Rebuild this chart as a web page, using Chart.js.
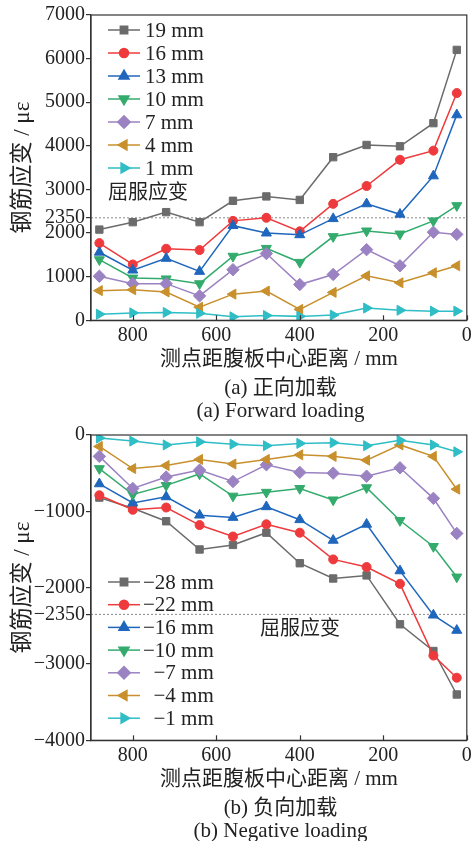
<!DOCTYPE html>
<html>
<head>
<meta charset="utf-8">
<script src="https://cdn.jsdelivr.net/npm/chart.js@4/dist/chart.umd.min.js"></script>
<style>
  html, body { margin: 0; padding: 0; background: #fff; }
  #wrap { position: relative; width: 474px; height: 841px; overflow: hidden; background: #fff; }
  .panel { position: absolute; left: 0; width: 474px; height: 420px; }
  .panel canvas { position: absolute; left: 0; top: 0; }
  .cap { position: absolute; left: 91px; width: 379px; text-align: center; height: 24px; line-height: 24px;
         font-family: 'Liberation Serif', 'Noto Sans CJK SC', serif; font-size: 21px; color: #222; white-space: nowrap; }
</style>
</head>
<body>
<div id="wrap">
  <div class="panel" style="top:0px">
    <canvas id="c1" width="474" height="420"></canvas>
    <div class="cap" style="top:375px">(a) 正向加载</div>
    <div class="cap" style="top:398px">(a) Forward loading</div>
  </div>
  <div class="panel" style="top:420px">
    <canvas id="c2" width="474" height="420"></canvas>
    <div class="cap" style="top:375px">(b) 负向加载</div>
    <div class="cap" style="top:398px">(b) Negative loading</div>
  </div>
</div>
<script>
// ---------- data ----------
const xPositions = [880, 800, 720, 640, 560, 480, 400, 320, 240, 160, 80, 24];
const xTicks = [0, 200, 400, 600, 800];
const yTicksTop = [0, 1000, 2000, 2350, 3000, 4000, 5000, 6000, 7000];
const yTicksBottom = [-4000, -3000, -2350, -2000, -1000, 0];
const yieldStrain = 2350;

const posLabels = ['19 mm', '16 mm', '13 mm', '10 mm', '7 mm', '4 mm', '1 mm'];
const pos19 = [2080, 2250, 2480, 2250, 2740, 2840, 2760, 3740, 4020, 3990, 4520, 6200];
const pos16 = [1770, 1280, 1640, 1610, 2280, 2350, 2040, 2670, 3080, 3680, 3890, 5210];
const pos13 = [1560, 1150, 1420, 1120, 2170, 2000, 1960, 2330, 2670, 2430, 3310, 4710];
const pos10 = [1390, 970, 950, 840, 1470, 1650, 1330, 1920, 2050, 1980, 2280, 2630];
const pos7  = [1010, 840, 840, 560, 1160, 1530, 820, 1050, 1620, 1250, 2020, 1970];
const pos4  = [680, 700, 650, 300, 600, 670, 250, 640, 1020, 860, 1090, 1250];
const pos1  = [140, 170, 180, 160, 80, 110, 90, 120, 280, 230, 210, 210];

const negLabels = ['\u221228 mm', '\u221222 mm', '\u221216 mm', '\u221210 mm', '\u2007\u22127 mm', '\u2007\u22124 mm', '\u2007\u22121 mm'];
const neg28 = [-820, -960, -1130, -1500, -1440, -1280, -1680, -1880, -1840, -2480, -2830, -3400];
const neg22 = [-790, -980, -950, -1180, -1330, -1170, -1280, -1630, -1730, -1950, -2890, -3180];
const neg16 = [-640, -890, -810, -1050, -1080, -940, -1110, -1380, -1170, -1780, -2360, -2560];
const neg10 = [-440, -780, -660, -510, -800, -750, -700, -850, -690, -1120, -1460, -1860];
const neg7  = [-280, -700, -550, -460, -610, -390, -490, -500, -540, -430, -830, -1290];
const neg4  = [-150, -440, -400, -320, -380, -320, -260, -280, -330, -130, -280, -710];
const neg1  = [-40, -80, -130, -90, -120, -140, -110, -100, -140, -70, -130, -220];

// ---------- styles ----------
const colors = ['#6b6b6b', '#ee3a3c', '#1f66bd', '#33ab6c', '#9b82c2', '#c8902c', '#2fbdc6'];
const markers = [
  { style: 'rect', rot: 0, r: 5.2 },
  { style: 'circle', rot: 0, r: 4.5 },
  { style: 'triangle', rot: 0, r: 5.8 },
  { style: 'triangle', rot: 180, r: 5.8 },
  { style: 'rectRot', rot: 0, r: 6.2 },
  { style: 'triangle', rot: 270, r: 5.8 },
  { style: 'triangle', rot: 90, r: 5.8 }
];
const FONT = "'Liberation Serif', 'Noto Sans CJK SC', serif";
const minus = v => (v < 0 ? '\u2212' + Math.abs(v) : String(v));

function makeDatasets(labels, series, yieldVal) {
  const ds = series.map((vals, i) => ({
    label: labels[i],
    data: vals.map((v, k) => ({ x: xPositions[k], y: v })),
    borderColor: colors[i],
    backgroundColor: colors[i],
    borderWidth: 1.5,
    pointStyle: markers[i].style,
    rotation: markers[i].rot,
    pointRadius: markers[i].r,
    pointHoverRadius: markers[i].r,
    pointBorderWidth: 1,
    tension: 0,
    order: 10 - i
  }));
  ds.push({
    label: 'yield',
    data: [{ x: 900, y: yieldVal }, { x: 0, y: yieldVal }],
    borderColor: '#8a8a8a',
    borderWidth: 1,
    borderDash: [2, 2],
    pointRadius: 0,
    order: 50,
    isYield: true
  });
  return ds;
}

function drawMarker(ctx, m, x, y) {
  const opts = { pointStyle: m.style, rotation: m.rot, radius: m.r, borderWidth: 1 };
  if (Chart.helpers && Chart.helpers.drawPoint) {
    Chart.helpers.drawPoint(ctx, opts, x, y);
  } else {
    ctx.beginPath(); ctx.arc(x, y, m.r, 0, Math.PI * 2); ctx.fill(); ctx.stroke();
  }
}

const decorPlugin = {
  id: 'decor',
  afterDraw(chart, args, o) {
    const ctx = chart.ctx;
    const a = chart.chartArea;
    const xs = chart.scales.x;
    ctx.save();
    // frame
    ctx.strokeStyle = '#333';
    ctx.lineWidth = 1.2;
    ctx.strokeRect(a.left, a.top, a.right - a.left, a.bottom - a.top);
    // inward x ticks
    xTicks.forEach(v => {
      const px = Math.round(xs.getPixelForValue(v)) + 0.5;
      ctx.beginPath();
      ctx.moveTo(px, a.bottom);
      ctx.lineTo(px, a.bottom - 5);
      ctx.stroke();
    });
    // legend
    const dsets = chart.data.datasets.filter(d => !d.isYield);
    ctx.font = '21px ' + FONT;
    ctx.textBaseline = 'middle';
    ctx.textAlign = 'left';
    dsets.forEach((d, i) => {
      const y = o.legendY + i * o.legendDy;
      ctx.strokeStyle = d.borderColor;
      ctx.fillStyle = d.backgroundColor;
      ctx.lineWidth = 1.5;
      ctx.setLineDash([]);
      ctx.beginPath();
      ctx.moveTo(o.legendX0, y);
      ctx.lineTo(o.legendX1, y);
      ctx.stroke();
      drawMarker(ctx, markers[i], (o.legendX0 + o.legendX1) / 2, y);
      ctx.fillStyle = '#222';
      ctx.fillText(d.label, o.legendTextX, y + 1);
    });
    // yield annotation
    ctx.fillStyle = '#222';
    ctx.font = '20px ' + FONT;
    ctx.fillText(o.yieldText, o.yieldX, o.yieldY);
    ctx.restore();
  }
};

function makeChart(id, labels, series, yMin, yMax, yTicks, yieldVal, decor) {
  return new Chart(document.getElementById(id), {
    type: 'line',
    data: { datasets: makeDatasets(labels, series, yieldVal) },
    plugins: [decorPlugin],
    options: {
      responsive: false,
      animation: false,
      events: [],
      layout: { padding: { left: 0, right: 4, top: 15, bottom: 48 } },
      plugins: {
        legend: { display: false },
        tooltip: { enabled: false },
        decor: decor
      },
      scales: {
        x: {
          type: 'linear',
          min: 0, max: 900, reverse: true,
          afterBuildTicks: s => { s.ticks = xTicks.map(v => ({ value: v })); },
          afterFit: s => { s.height = 51.7; s.paddingLeft = 0; s.paddingRight = 0; },
          grid: { display: false, drawTicks: false },
          border: { display: true, color: '#333', width: 1.2 },
          ticks: { padding: 3, color: '#222', font: { family: FONT, size: 20 }, maxRotation: 0, autoSkip: false, callback: v => String(v) },
          title: { display: true, text: '测点距腹板中心距离 / mm', color: '#222', font: { family: FONT, size: 21 }, padding: { top: 0, bottom: 0 } }
        },
        y: {
          min: yMin, max: yMax,
          afterBuildTicks: s => { s.ticks = yTicks.map(v => ({ value: v })); },
          afterFit: s => { s.width = 91; s.paddingTop = 0; s.paddingBottom = 0; },
          grid: { display: true, drawOnChartArea: false, drawTicks: true, tickLength: 5, color: '#333', lineWidth: 1.2 },
          border: { display: true, color: '#333', width: 1.2 },
          ticks: { padding: 1, color: '#222', font: { family: FONT, size: 20 }, autoSkip: false, callback: v => minus(v) },
          title: { display: true, text: '钢筋应变 / με', color: '#222', font: { family: FONT, size: 23 }, padding: { top: 9, bottom: 0 } }
        }
      }
    }
  });
}

makeChart('c1', posLabels, [pos19, pos16, pos13, pos10, pos7, pos4, pos1], 0, 7000, yTicksTop, yieldStrain, {
  legendX0: 108, legendX1: 140, legendTextX: 145, legendY: 30, legendDy: 23,
  yieldText: '屈服应变', yieldX: 108, yieldY: 194
});
makeChart('c2', negLabels, [neg28, neg22, neg16, neg10, neg7, neg4, neg1], -4000, 0, yTicksBottom, -yieldStrain, {
  legendX0: 108, legendX1: 140, legendTextX: 143, legendY: 162, legendDy: 22.7,
  yieldText: '屈服应变', yieldX: 260, yieldY: 210
});
</script>
</body>
</html>
